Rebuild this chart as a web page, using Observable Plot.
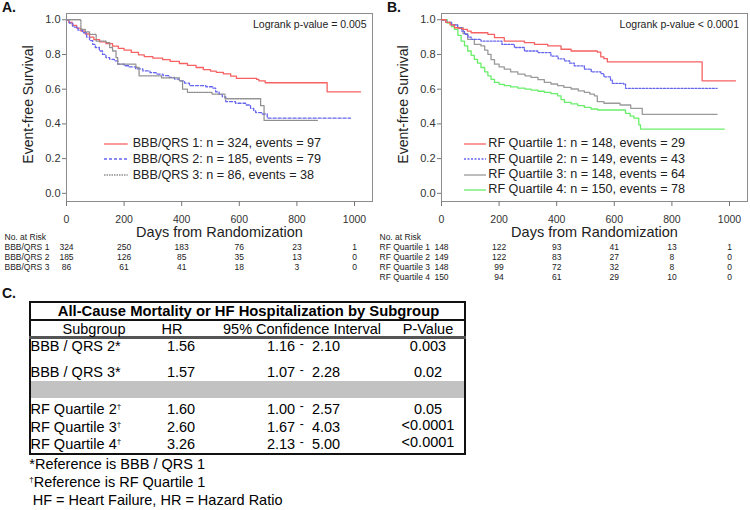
<!DOCTYPE html>
<html><head><meta charset="utf-8">
<script src="https://cdn.jsdelivr.net/npm/d3@7"></script>
<script src="https://cdn.jsdelivr.net/npm/@observablehq/plot@0.6"></script>
<style>
html,body{margin:0;padding:0;background:#fff;}
#root{position:relative;width:750px;height:510px;overflow:hidden;font-family:"Liberation Sans",Arial,Helvetica,sans-serif;color:#222;}
.abs{position:absolute;white-space:nowrap;}
.panel{position:absolute;}
</style></head><body><div id="root"></div>
<script>
// ---------------- data ----------------
const xTicks = [0, 200, 400, 600, 800, 1000];
const yTicks = [0, 0.2, 0.4, 0.6, 0.8, 1.0];

// Panel A: BBB/QRS groups
const groupsA = ["BBB/QRS 1", "BBB/QRS 2", "BBB/QRS 3"];
const nA = [324, 185, 86];
const eventsA = [97, 79, 38];
const bbb1Days = [0, 8, 20, 35, 50, 65, 80, 95, 115, 137, 160, 180, 200, 225, 250, 270, 300, 334, 360, 392, 420, 450, 475, 500, 520, 545, 570, 590, 660, 668, 690, 905, 1021];
const bbb1Surv = [1.0, 0.985, 0.968, 0.952, 0.935, 0.918, 0.9, 0.885, 0.873, 0.862, 0.848, 0.835, 0.825, 0.812, 0.798, 0.788, 0.779, 0.77, 0.76, 0.748, 0.737, 0.725, 0.713, 0.704, 0.697, 0.688, 0.675, 0.662, 0.656, 0.648, 0.637, 0.585, 0.585];
const bbb2Days = [0, 10, 22, 40, 56, 70, 80, 91, 100, 114, 125, 137, 150, 166, 178, 200, 218, 240, 265, 290, 311, 335, 357, 375, 392, 410, 427, 484, 507, 518, 530, 541, 553, 587, 622, 639, 650, 657, 680, 697, 986];
const bbb2Surv = [1.0, 0.98, 0.958, 0.94, 0.925, 0.9, 0.88, 0.858, 0.84, 0.82, 0.8, 0.782, 0.772, 0.763, 0.744, 0.735, 0.728, 0.717, 0.705, 0.695, 0.687, 0.678, 0.668, 0.658, 0.648, 0.635, 0.62, 0.614, 0.606, 0.585, 0.57, 0.556, 0.528, 0.519, 0.509, 0.49, 0.475, 0.465, 0.457, 0.433, 0.433];
const bbb3Days = [0, 50, 65, 80, 103, 137, 150, 160, 172, 178, 241, 252, 330, 392, 403, 420, 505, 550, 674, 686, 871];
const bbb3Surv = [1.0, 0.945, 0.93, 0.916, 0.877, 0.868, 0.84, 0.82, 0.782, 0.744, 0.725, 0.677, 0.665, 0.648, 0.6, 0.582, 0.572, 0.545, 0.505, 0.42, 0.42];
const riskA1 = [324, 250, 183, 76, 23, 1];
const riskA2 = [185, 126, 85, 35, 13, 0];
const riskA3 = [86, 61, 41, 18, 3, 0];
const logrankA = "Logrank p-value = 0.005";

// Panel B: RF quartiles
const groupsB = ["RF Quartile 1", "RF Quartile 2", "RF Quartile 3", "RF Quartile 4"];
const nB = [148, 149, 148, 150];
const eventsB = [29, 43, 64, 78];
const q1Days = [0, 15, 30, 45, 60, 74, 90, 103, 161, 184, 218, 288, 323, 369, 415, 450, 541, 553, 564, 576, 905, 1021];
const q1Surv = [1.0, 0.985, 0.97, 0.954, 0.95, 0.944, 0.935, 0.925, 0.916, 0.897, 0.877, 0.868, 0.858, 0.849, 0.83, 0.82, 0.814, 0.786, 0.776, 0.757, 0.648, 0.648];
const q2Days = [0, 15, 35, 56, 70, 80, 92, 103, 137, 210, 253, 288, 334, 380, 405, 427, 445, 461, 496, 520, 553, 564, 587, 593, 633, 639, 957];
const q2Surv = [1.0, 0.985, 0.97, 0.954, 0.935, 0.916, 0.9, 0.887, 0.877, 0.858, 0.84, 0.82, 0.811, 0.791, 0.775, 0.763, 0.75, 0.734, 0.715, 0.7, 0.69, 0.671, 0.652, 0.633, 0.629, 0.605, 0.605];
const q3Days = [0, 15, 35, 56, 75, 91, 114, 137, 150, 161, 172, 184, 200, 218, 240, 265, 290, 311, 335, 357, 380, 403, 425, 450, 475, 496, 515, 531, 541, 564, 620, 657, 697, 957];
const q3Surv = [1.0, 0.985, 0.97, 0.954, 0.92, 0.887, 0.858, 0.849, 0.825, 0.801, 0.77, 0.744, 0.728, 0.715, 0.7, 0.687, 0.677, 0.668, 0.655, 0.639, 0.63, 0.62, 0.61, 0.601, 0.59, 0.582, 0.572, 0.562, 0.528, 0.519, 0.509, 0.49, 0.455, 0.455];
const q4Days = [0, 20, 35, 45, 57, 68, 80, 91, 103, 114, 125, 137, 150, 161, 172, 184, 200, 218, 240, 265, 290, 311, 335, 357, 380, 403, 415, 427, 450, 473, 496, 519, 542, 639, 655, 668, 685, 691, 982];
const q4Surv = [1.0, 0.98, 0.96, 0.944, 0.91, 0.877, 0.85, 0.82, 0.795, 0.772, 0.75, 0.725, 0.7, 0.677, 0.657, 0.639, 0.628, 0.62, 0.613, 0.606, 0.6, 0.595, 0.588, 0.582, 0.575, 0.562, 0.54, 0.524, 0.515, 0.505, 0.495, 0.486, 0.48, 0.461, 0.445, 0.433, 0.394, 0.37, 0.37];
const riskB1 = [148, 122, 93, 41, 13, 1];
const riskB2 = [149, 122, 83, 27, 8, 0];
const riskB3 = [148, 99, 72, 32, 8, 0];
const riskB4 = [150, 94, 61, 29, 10, 0];
const logrankB = "Logrank p-value < 0.0001";

// Panel C: table
const tableTitle = "All-Cause Mortality or HF Hospitalization by Subgroup";
const tableHeaders = ["Subgroup", "HR", "95% Confidence Interval", "P-Value"];
const subgroups = ["BBB / QRS 2", "BBB / QRS 3", "RF Quartile 2", "RF Quartile 3", "RF Quartile 4"];
const refMarks = ["*", "*", "†", "†", "†"];
const hrValues = ["1.56", "1.57", "1.60", "2.60", "3.26"];
const ciLow = ["1.16", "1.07", "1.00", "1.67", "2.13"];
const ciHigh = ["2.10", "2.28", "2.57", "4.03", "5.00"];
const pValues = ["0.003", "0.02", "0.05", "<0.0001", "<0.0001"];
const footnotes = ["*Reference is BBB / QRS 1", "†Reference is RF Quartile 1", "HF = Heart Failure, HR = Hazard Ratio"];

// ---------------- layout / drawing ----------------
const root = document.getElementById("root");
const FONT = "Liberation Sans, Arial, Helvetica, sans-serif";
const X_DOMAIN = [0, 1062.5];
const Y_DOMAIN = [-0.047, 1.036];

function zip(days, surv) { return days.map((d, i) => ({day: d, s: surv[i]})); }

function kmPlot(series, logrank, logDx) {
  const marks = [
    Plot.frame({stroke: "#8c8c8c", strokeWidth: 1}),
    Plot.axisX({ticks: xTicks, tickSize: 5, tickPadding: 9, fontSize: 10.5, label: null, tickFormat: d => String(d), stroke: "#777", fill: "#333"}),
    Plot.axisY({ticks: yTicks, tickSize: 4, tickPadding: 2, fontSize: 11, label: null, tickFormat: d => d.toFixed(1), stroke: "#777", fill: "#333"})
  ];
  for (const s of series) {
    marks.push(Plot.line(zip(s.days, s.surv), {x: "day", y: "s", curve: "step-after", stroke: s.color, strokeWidth: 1.3, strokeDasharray: s.dash}));
  }
  marks.push(Plot.text([logrank], {text: d => d, frameAnchor: "top-right", textAnchor: "end", lineAnchor: "middle", dx: logDx, dy: 11, fontSize: 10.5, fill: "#222"}));
  marks.push(Plot.text(["Event-free Survival"], {text: d => d, frameAnchor: "left", textAnchor: "middle", rotate: -90, dx: -38, dy: -3, lineAnchor: "middle", fontSize: 14, fill: "#222"}));
  marks.push(Plot.text(["Days from Randomization"], {text: d => d, frameAnchor: "bottom", textAnchor: "middle", dy: 31, lineAnchor: "middle", fontSize: 14.5, fill: "#222"}));
  return Plot.plot({
    width: 375, height: 243,
    marginLeft: 66, marginRight: 3, marginTop: 13, marginBottom: 42,
    x: {domain: X_DOMAIN},
    y: {domain: Y_DOMAIN},
    style: {fontFamily: FONT, background: "transparent", overflow: "visible"},
    marks
  });
}

function riskPlot(groups, risks) {
  const rows = [];
  groups.forEach((g, gi) => xTicks.forEach((t, ti) => rows.push({group: g, day: t, n: risks[gi][ti]})));
  const h = 17 + 10 * (groups.length - 1) + 5;
  return Plot.plot({
    width: 375, height: h,
    marginLeft: 66, marginRight: 3, marginTop: 17, marginBottom: 5,
    x: {domain: X_DOMAIN, axis: null},
    y: {type: "point", domain: groups, padding: 0, axis: null},
    style: {fontFamily: FONT, background: "transparent", overflow: "visible"},
    marks: [
      Plot.text(["No. at Risk"], {text: d => d, frameAnchor: "top-left", textAnchor: "start", lineAnchor: "middle", dx: -62, dy: -10, fontSize: 8.5, fill: "#222"}),
      Plot.text(groups, {y: d => d, text: d => d, frameAnchor: "left", textAnchor: "start", lineAnchor: "middle", dx: -62, fontSize: 8.5, fill: "#222"}),
      Plot.text(rows, {x: "day", y: "group", text: d => String(d.n), lineAnchor: "middle", fontSize: 8.5, fill: "#222"})
    ]
  });
}

function addPanel(node, left, top) {
  const wrap = document.createElement("div");
  wrap.className = "panel";
  wrap.style.left = left + "px";
  wrap.style.top = top + "px";
  wrap.appendChild(node);
  root.appendChild(wrap);
}

function put(html, x, yc, {size = 14.5, weight = 400, anchor = "start", color = "#111"} = {}) {
  const lh = Math.round(size * 1.2 * 10) / 10;
  const d = document.createElement("div");
  d.className = "abs";
  d.style.left = x + "px";
  d.style.top = (yc - lh / 2) + "px";
  d.style.lineHeight = lh + "px";
  d.style.fontSize = size + "px";
  d.style.fontWeight = weight;
  d.style.color = color;
  if (anchor === "middle") d.style.transform = "translateX(-50%)";
  if (anchor === "end") d.style.transform = "translateX(-100%)";
  d.innerHTML = html;
  root.appendChild(d);
  return d;
}

function box(x, y, w, h, css) {
  const d = document.createElement("div");
  d.className = "abs";
  d.style.left = x + "px"; d.style.top = y + "px";
  d.style.width = w + "px"; d.style.height = h + "px";
  d.style.boxSizing = "border-box";
  Object.assign(d.style, css);
  root.appendChild(d);
  return d;
}

function legend(names, ns, evs, styles, x0, x1, tx, y0, step) {
  names.forEach((nm, i) => {
    const y = y0 + i * step;
    const w = x1 - x0;
    const d = document.createElement("div");
    d.className = "abs";
    d.style.left = x0 + "px"; d.style.top = (y - 3) + "px";
    d.innerHTML = `<svg width="${w}" height="6" style="display:block"><line x1="0" x2="${w}" y1="3" y2="3" stroke="${styles[i].color}" stroke-width="1.3" ${styles[i].dash ? `stroke-dasharray="${styles[i].dash}"` : ""}/></svg>`;
    root.appendChild(d);
    put(`${nm}: n = ${ns[i]}, events = ${evs[i]}`, tx, y, {size: 12.6, color: "#222"});
  });
}

// Panel A
const stylesA = [
  {color: "#f66262", dash: null},
  {color: "#6464ee", dash: "3,2"},
  {color: "#8f8f8f", dash: "1.5,1"}
];
const seriesA = [
  {days: bbb1Days, surv: bbb1Surv, ...stylesA[0]},
  {days: bbb2Days, surv: bbb2Surv, ...stylesA[1]},
  {days: bbb3Days, surv: bbb3Surv, ...stylesA[2]}
];
addPanel(kmPlot(seriesA, logrankA, -6), 0, 0);
addPanel(riskPlot(groupsA, [riskA1, riskA2, riskA3]), 0, 230);
legend(groupsA, nA, eventsA, stylesA, 104, 127.7, 132.7, 143.5, 15.85);

// Panel B
const stylesB = [
  {color: "#f66262", dash: null},
  {color: "#6464ee", dash: "2,1.5"},
  {color: "#9a9a9a", dash: null},
  {color: "#6aee6a", dash: null}
];
const seriesB = [
  {days: q4Days, surv: q4Surv, ...stylesB[3]},
  {days: q3Days, surv: q3Surv, ...stylesB[2]},
  {days: q2Days, surv: q2Surv, ...stylesB[1]},
  {days: q1Days, surv: q1Surv, ...stylesB[0]}
];
addPanel(kmPlot(seriesB, logrankB, -8.5), 375, 0);
addPanel(riskPlot(groupsB, [riskB1, riskB2, riskB3, riskB4]), 375, 230);
legend(groupsB, nB, eventsB, stylesB, 464, 486, 488.3, 144, 15.3);

// Panel letters
put("A.", 2, 7.5, {size: 14, weight: 700, color: "#111"});
put("B.", 387, 7.5, {size: 14, weight: 700, color: "#111"});
put("C.", 2, 293.5, {size: 14, weight: 700, color: "#111"});

// Panel C table
const TL = 29, TR = 466, TT = 301, TB = 455;
box(TL, 381, TR - TL, 17.3, {background: "#c2c2c2"});
box(TL, TT, TR - TL, TB - TT, {border: "2px solid #111"});
box(TL, 319.3, TR - TL, 1.5, {background: "#111"});
box(TL, 336, TR - TL, 3, {background: "#555"});
put(tableTitle, (TL + TR) / 2 + 1, 312, {size: 14.8, weight: 700, anchor: "middle", color: "#000"});
const headerX = [94, 172, 302, 428];
tableHeaders.forEach((h, i) => put(h, headerX[i], 329.5, {size: 14.5, anchor: "middle", color: "#000"}));
const rowY = [346.7, 372.7, 409.3, 427.3, 445];
const sup = m => m === "†" ? `<span style="font-size:8px;position:relative;top:-5px">†</span>` : m;
subgroups.forEach((g, i) => {
  const y = rowY[i];
  put(g + sup(refMarks[i]), 30.5, y, {size: 14.5, color: "#000"});
  put(hrValues[i], 181, y, {size: 14.5, anchor: "middle", color: "#000"});
  put(ciLow[i], 281, y, {size: 14.5, anchor: "middle", color: "#000"});
  put("-", 301.7, y - 3, {size: 12, anchor: "middle", color: "#000"});
  put(ciHigh[i], 326, y, {size: 14.5, anchor: "middle", color: "#000"});
  put(pValues[i], 428, y - (pValues[i].startsWith("<") ? 2 : 0), {size: 14.5, anchor: "middle", color: "#000"});
});
const footY = [464.3, 482.7, 501];
const footX = [29.3, 29.3, 32.7];
footnotes.forEach((f, i) => {
  const html = f.startsWith("†") ? sup("†") + f.slice(1) : f;
  put(html, footX[i], footY[i], {size: 14.5, color: "#000"});
});
</script></body></html>
